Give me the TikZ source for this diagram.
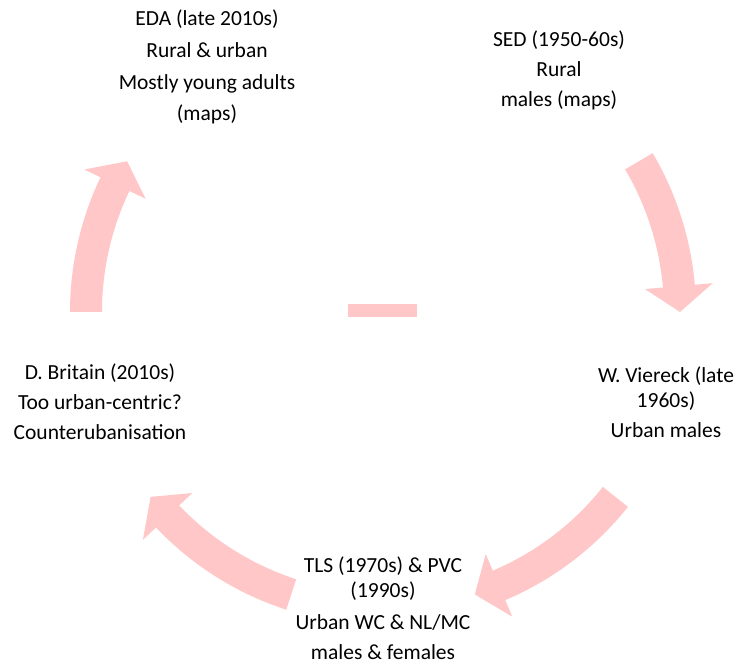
\documentclass[tikz,border=0pt]{standalone}
\usepackage{fontspec}
\setmainfont{Carlito}
\definecolor{arrowpink}{RGB}{255,199,199}
\tikzset{
  arrowfill/.style={fill=arrowpink, draw=none},
  cyctext/.style={align=center, inner sep=0pt, font=\fontsize{21.5}{25}\selectfont, text=black},
}
\newcommand\cycarrow[2]{%
  \fill[arrowfill] (#1:\Ro) arc[start angle=#1, end angle={#2+\dl}, radius=\Ro]
    -- ({#2+\dl}:\Rh) -- (#2:\R) -- ({#2+\dl}:\Rl) -- ({#2+\dl}:\Ri)
    arc[start angle={#2+\dl}, end angle=#1, radius=\Ri] -- cycle;}
\begin{document}
\begin{tikzpicture}[x=1pt,y=1pt]
\useasboundingbox (0,0) rectangle (739,665);
\def\R{297}\def\Ro{313}\def\Ri{281}\def\Rh{331}\def\Rl{263}\def\dl{5}
\coordinate (C) at (383,353);
\begin{scope}[shift={(C)}]
  \cycarrow{180}{149.5}
  \cycarrow{30.5}{0}
  \cycarrow{-38.5}{-72}
  \cycarrow{-108}{-141.5}
\end{scope}
\node[fill=arrowpink, minimum width=69pt, minimum height=13pt, inner sep=0pt] (dash) at (382.5,354.5) {};
\node[cyctext] (eda) at (207,598.5) {EDA (late 2010s)\\[7pt]Rural \& urban\\[7pt]Mostly young adults\\[6pt](maps)};
\node[cyctext] (sed) at (559,594.5) {SED (1950-60s)\\[5pt]Rural\\[5pt]males (maps)};
\node[cyctext] (vie) at (666,262.5) {W. Viereck (late\\1960s)\\[5pt]Urban males};
\node[cyctext] (tls) at (383,56.5) {TLS (1970s) \& PVC\\(1990s)\\[7pt]Urban WC \& NL/MC\\[5pt]males \& females};
\node[cyctext] (bri) at (100,263) {D. Britain (2010s)\\[5pt]Too urban-centric?\\[5pt]Counterubanisation};
\end{tikzpicture}
\end{document}
